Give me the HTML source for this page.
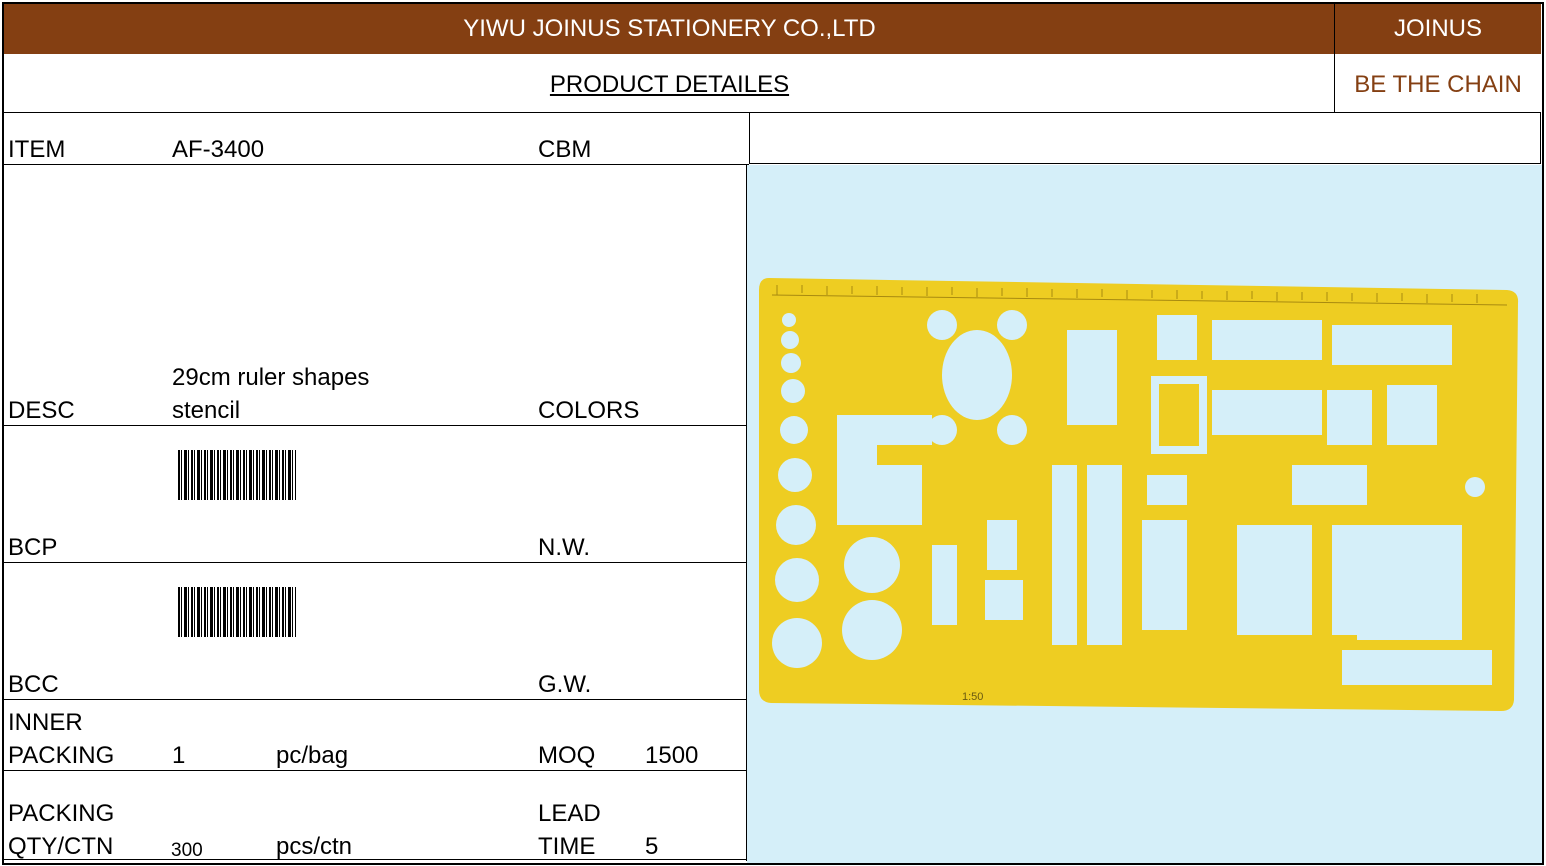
<!DOCTYPE html>
<html><head><meta charset="utf-8"><style>
body{margin:0;width:1546px;height:866px;background:#fff;position:relative;overflow:hidden;font-family:"Liberation Sans",sans-serif;}
.a{position:absolute;}
.t{position:absolute;font-size:24px;color:#000;line-height:1;white-space:nowrap;}
.h{position:absolute;background:#000;height:1px;}
.v{position:absolute;background:#000;width:1px;}
.bc{position:absolute;width:118px;height:50px;background:repeating-linear-gradient(90deg,#000 0 2px,#fff 2px 3px,#000 3px 4px,#fff 4px 6px,#000 6px 9px,#fff 9px 10px,#000 10px 11px,#fff 11px 13px);}
</style></head><body>
<div class="a" style="left:2px;top:2px;width:1538px;height:859px;border:2px solid #000;"></div>
<div class="a" style="left:4px;top:4px;width:1537px;height:50px;background:#843f12;"></div>
<div class="t" style="left:4px;width:1331px;text-align:center;top:17px;color:#fff;">YIWU JOINUS STATIONERY CO.,LTD</div>
<div class="t" style="left:1335px;width:206px;text-align:center;top:17px;color:#fff;">JOINUS</div>
<div class="v" style="left:1334px;top:4px;height:108px;"></div>
<div class="t" style="left:4px;width:1331px;text-align:center;top:73px;text-decoration:underline;">PRODUCT DETAILES</div>
<div class="t" style="left:1335px;width:206px;text-align:center;top:73px;color:#843f12;">BE THE CHAIN</div>
<div class="h" style="left:4px;top:112px;width:1537px;"></div>
<div class="v" style="left:749px;top:112px;height:52px;"></div>
<div class="v" style="left:1540px;top:112px;height:52px;"></div>
<div class="h" style="left:749px;top:163px;width:792px;"></div>
<div class="h" style="left:4px;top:164px;width:745px;"></div>
<div class="h" style="left:4px;top:425px;width:743px;"></div>
<div class="h" style="left:4px;top:562px;width:743px;"></div>
<div class="h" style="left:4px;top:699px;width:743px;"></div>
<div class="h" style="left:4px;top:770px;width:743px;"></div>
<div class="h" style="left:4px;top:859px;width:743px;"></div>
<div class="v" style="left:746px;top:164px;height:697px;"></div>
<div class="t" style="left:8px;top:138px;">ITEM</div>
<div class="t" style="left:172px;top:138px;">AF-3400</div>
<div class="t" style="left:538px;top:138px;">CBM</div>
<div class="t" style="left:172px;top:366px;">29cm ruler shapes</div>
<div class="t" style="left:8px;top:399px;">DESC</div>
<div class="t" style="left:172px;top:399px;">stencil</div>
<div class="t" style="left:538px;top:399px;">COLORS</div>
<div class="bc" style="left:178px;top:450px;"></div>
<div class="t" style="left:8px;top:536px;">BCP</div>
<div class="t" style="left:538px;top:536px;">N.W.</div>
<div class="bc" style="left:178px;top:587px;"></div>
<div class="t" style="left:8px;top:673px;">BCC</div>
<div class="t" style="left:538px;top:673px;">G.W.</div>
<div class="t" style="left:8px;top:711px;">INNER</div>
<div class="t" style="left:8px;top:744px;">PACKING</div>
<div class="t" style="left:172px;top:744px;">1</div>
<div class="t" style="left:276px;top:744px;">pc/bag</div>
<div class="t" style="left:538px;top:744px;">MOQ</div>
<div class="t" style="left:645px;top:744px;">1500</div>
<div class="t" style="left:8px;top:802px;">PACKING</div>
<div class="t" style="left:8px;top:835px;">QTY/CTN</div>
<div class="t" style="left:171px;top:841px;font-size:19px;">300</div>
<div class="t" style="left:276px;top:835px;">pcs/ctn</div>
<div class="t" style="left:538px;top:802px;">LEAD</div>
<div class="t" style="left:538px;top:835px;">TIME</div>
<div class="t" style="left:645px;top:835px;">5</div>
<svg class="a" style="left:747px;top:165px;" width="795" height="698" viewBox="0 0 795 698">
<rect width="795" height="698" fill="#d5eff9"/>
<path d="M22 113 L760 125 Q772 126 771 138 L767 535 Q766 546 754 546 L24 538 Q12 537 12 525 L12 125 Q12 113 22 113Z" fill="#eecd22"/>
<line x1="25" y1="130" x2="760" y2="140" stroke="#a88a10" stroke-width="1"/>
<g fill="#d5eff9">
<circle cx="42" cy="155" r="7"/><circle cx="43" cy="175" r="9"/><circle cx="44" cy="198" r="10"/><circle cx="46" cy="226" r="12"/><circle cx="47" cy="265" r="14"/><circle cx="48" cy="310" r="17"/><circle cx="49" cy="360" r="20"/><circle cx="50" cy="415" r="22"/><circle cx="50" cy="478" r="25"/>
<circle cx="125" cy="400" r="28"/><circle cx="125" cy="465" r="30"/>
<rect x="90" y="250" width="40" height="110"/><rect x="95" y="250" width="90" height="30"/>
<ellipse cx="230" cy="210" rx="35" ry="45"/>
<circle cx="195" cy="160" r="15"/><circle cx="265" cy="160" r="15"/><circle cx="195" cy="265" r="15"/><circle cx="265" cy="265" r="15"/>
<rect x="130" y="300" width="45" height="60"/>
<rect x="185" y="380" width="25" height="80"/>
<rect x="240" y="355" width="30" height="50"/><rect x="238" y="415" width="38" height="40"/>
<rect x="305" y="300" width="25" height="180"/><rect x="340" y="300" width="35" height="180"/>
<rect x="320" y="165" width="50" height="95"/>
<rect x="410" y="150" width="40" height="45"/>
<rect x="465" y="155" width="110" height="40"/><rect x="585" y="160" width="120" height="40"/>
<rect x="465" y="225" width="110" height="45"/><rect x="580" y="225" width="45" height="55"/><rect x="640" y="220" width="50" height="60"/>
<rect x="400" y="310" width="40" height="30"/><rect x="395" y="355" width="45" height="110"/>
<rect x="490" y="360" width="75" height="110"/><rect x="545" y="300" width="75" height="40"/>
<rect x="585" y="360" width="35" height="110"/><rect x="610" y="360" width="105" height="115"/>
<rect x="595" y="485" width="150" height="35"/>
<circle cx="728" cy="322" r="10"/>
<rect x="408" y="215" width="48" height="70" fill="none" stroke="#d5eff9" stroke-width="8"/>
</g>
<g stroke="#a88a10" stroke-width="1">
<path d="M30 120v10M55 120v8M80 121v9M105 121v8M130 121v9M155 122v8M180 122v9M205 122v8M230 123v9M255 123v8M280 123v9M305 124v8M330 124v9M355 124v8M380 125v9M405 125v8M430 125v9M455 126v8M480 126v9M505 126v8M530 127v9M555 127v8M580 127v9M605 128v8M630 128v9M655 128v8M680 129v9M705 129v8M730 129v9"/>
</g>
<text x="215" y="535" font-size="11" fill="#6a5a10" font-family="Liberation Sans,sans-serif">1:50</text>
</svg>
</body></html>
